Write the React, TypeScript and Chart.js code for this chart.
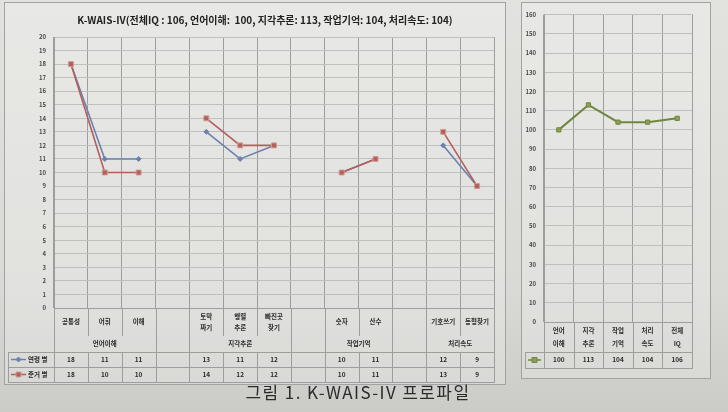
import React, { useEffect, useRef } from 'react';
import { Chart, registerables } from 'chart.js';

Chart.register(...registerables);

// ---------------- data ----------------
const subtestLabels: string[][] = [
  ['공통성'], ['어휘'], ['이해'], [''],
  ['토막', '짜기'], ['행렬', '추론'], ['빠진곳', '찾기'], [''],
  ['숫자'], ['산수'], [''],
  ['기호쓰기'], ['동형찾기'],
];
const ageScores = [18, 11, 11, null, 13, 11, 12, null, 10, 11, null, 12, 9];
const normScores = [18, 10, 10, null, 14, 12, 12, null, 10, 11, null, 13, 9];
const seriesNames = ['연령 별', '준거 별'];
const groupNames = ['언어이해', '지각추론', '작업기억', '처리속도'];
const groupFirst = [0, 4, 8, 11];
const groupLast = [2, 6, 9, 12];
const subtestMin = 0;
const subtestMax = 20;
const subtestStep = 1;

const indexLabels: string[][] = [['언어', '이해'], ['지각', '추론'], ['작업', '기억'], ['처리', '속도'], ['전체', 'IQ']];
const indexScores = [100, 113, 104, 104, 106];
const indexMin = 0;
const indexMax = 160;
const indexStep = 10;

const titleText = 'K-WAIS-IV(전체IQ : 106, 언어이해:  100, 지각추론: 113, 작업기억: 104, 처리속도: 104)';
const captionText = '그림 1. K-WAIS-IV 프로파일';

// ---------------- style ----------------
const FONT = '"Noto Sans CJK KR", "Noto Sans", sans-serif';
const BLUE = '#6b82ae';
const RED = '#b35f5a';
const RED_EDGE = '#d49b96';
const GREEN = '#71863e';
const GREEN_FILL = '#8c9f58';
const GRIDV = '#9d9d9d';
const GRIDH = '#bfbfbf';
const TEXT = '#2c2c2c';

function marker(ctx: CanvasRenderingContext2D, style: string, x: number, y: number, r: number, fill: string, stroke: string) {
  ctx.save();
  ctx.fillStyle = fill;
  ctx.strokeStyle = stroke;
  ctx.lineWidth = 1;
  ctx.beginPath();
  if (style === 'rectRot') {
    ctx.moveTo(x, y - r); ctx.lineTo(x + r, y); ctx.lineTo(x, y + r); ctx.lineTo(x - r, y); ctx.closePath();
  } else {
    ctx.rect(x - r, y - r, 2 * r, 2 * r);
  }
  ctx.fill();
  ctx.stroke();
  ctx.restore();
}

const leftTable = {
  id: 'leftTable',
  afterDraw(chart: any) {
    const { ctx, chartArea: a } = chart;
    const x = chart.scales.x;
    const n = subtestLabels.length;
    const half = (x.getPixelForValue(1) - x.getPixelForValue(0)) / 2;
    const edge = (i: number) => x.getPixelForValue(i) - half;
    const yCat = a.bottom + 28;
    const yGrp = yCat + 16;
    const yR1 = yGrp + 15;
    const yR2 = yR1 + 15;
    const legL = 3;
    ctx.save();
    ctx.strokeStyle = GRIDV;
    ctx.lineWidth = 1;
    ctx.beginPath();
    for (let i = 0; i <= n; i++) {
      const px = Math.round(edge(i)) + 0.5;
      const blankL = i > 0 && subtestLabels[i - 1][0] === '';
      const blankR = i < n && subtestLabels[i][0] === '';
      const groupEdge = i === 0 || i === n || blankL || blankR;
      ctx.moveTo(px, a.bottom);
      ctx.lineTo(px, groupEdge ? yR2 : yCat);
      if (!groupEdge) { ctx.moveTo(px, yGrp); ctx.lineTo(px, yR2); }
    }
    ctx.moveTo(legL + 0.5, yGrp); ctx.lineTo(legL + 0.5, yR2);
    [yGrp, yR1, yR2].forEach((y) => {
      const yy = Math.round(y) + 0.5;
      ctx.moveTo(legL, yy); ctx.lineTo(Math.round(edge(n)) + 1, yy);
    });
    ctx.stroke();

    ctx.fillStyle = TEXT;
    ctx.textAlign = 'center';
    ctx.textBaseline = 'middle';
    ctx.font = `bold 6.5px ${FONT}`;
    const midCat = (a.bottom + yCat) / 2;
    subtestLabels.forEach((lines, i) => {
      const cx = x.getPixelForValue(i);
      lines.forEach((t, k) => ctx.fillText(t, cx, midCat + (k - (lines.length - 1) / 2) * 11));
    });
    groupNames.forEach((g, k) => {
      const cx = (x.getPixelForValue(groupFirst[k]) + x.getPixelForValue(groupLast[k])) / 2;
      ctx.fillText(g, cx, (yCat + yGrp) / 2);
    });
    const rows = [ageScores, normScores];
    const cols = [BLUE, RED];
    rows.forEach((vals, r) => {
      const cy = r === 0 ? (yGrp + yR1) / 2 : (yR1 + yR2) / 2;
      ctx.fillStyle = TEXT;
      ctx.textAlign = 'center';
      vals.forEach((v, i) => { if (v !== null) ctx.fillText(String(v), x.getPixelForValue(i), cy); });
      ctx.strokeStyle = cols[r];
      ctx.lineWidth = 1.5;
      ctx.beginPath(); ctx.moveTo(legL + 3, cy); ctx.lineTo(legL + 18, cy); ctx.stroke();
      if (r === 0) marker(ctx, 'rectRot', legL + 10.5, cy, 2.5, BLUE, BLUE);
      else marker(ctx, 'rect', legL + 10.5, cy, 2.5, RED, RED_EDGE);
      ctx.fillStyle = TEXT;
      ctx.textAlign = 'left';
      ctx.fillText(seriesNames[r], legL + 20, cy);
    });
    ctx.restore();
  },
};

const rightTable = {
  id: 'rightTable',
  afterDraw(chart: any) {
    const { ctx, chartArea: a } = chart;
    const x = chart.scales.x;
    const n = indexLabels.length;
    const half = (x.getPixelForValue(1) - x.getPixelForValue(0)) / 2;
    const edge = (i: number) => x.getPixelForValue(i) - half;
    const yCat = a.bottom + 30;
    const yR = yCat + 16;
    const legL = 3;
    ctx.save();
    ctx.strokeStyle = GRIDV;
    ctx.lineWidth = 1;
    ctx.beginPath();
    for (let i = 0; i <= n; i++) {
      const px = Math.round(edge(i)) + 0.5;
      ctx.moveTo(px, a.bottom); ctx.lineTo(px, yR);
    }
    ctx.moveTo(legL + 0.5, yCat); ctx.lineTo(legL + 0.5, yR);
    [yCat, yR].forEach((y) => {
      const yy = Math.round(y) + 0.5;
      ctx.moveTo(legL, yy); ctx.lineTo(Math.round(edge(n)) + 1, yy);
    });
    ctx.stroke();
    ctx.fillStyle = TEXT;
    ctx.textAlign = 'center';
    ctx.textBaseline = 'middle';
    ctx.font = `bold 6.5px ${FONT}`;
    const midCat = (a.bottom + yCat) / 2;
    indexLabels.forEach((lines, i) => {
      const cx = x.getPixelForValue(i);
      lines.forEach((t, k) => ctx.fillText(t, cx, midCat + (k - (lines.length - 1) / 2) * 13));
    });
    const cy = (yCat + yR) / 2;
    indexScores.forEach((v, i) => ctx.fillText(String(v), x.getPixelForValue(i), cy));
    ctx.strokeStyle = GREEN;
    ctx.lineWidth = 1.5;
    ctx.beginPath(); ctx.moveTo(legL + 3, cy); ctx.lineTo(legL + 16, cy); ctx.stroke();
    marker(ctx, 'rect', legL + 9.5, cy, 2.5, GREEN_FILL, GREEN);
    ctx.restore();
  },
};

export default function App() {
  const leftRef = useRef<HTMLCanvasElement>(null);
  const rightRef = useRef<HTMLCanvasElement>(null);

  useEffect(() => {
    const left = new Chart(leftRef.current as HTMLCanvasElement, {
      type: 'line',
      data: {
        labels: subtestLabels.map((l) => l.join('')),
        datasets: [
          {
            label: seriesNames[0], data: ageScores, borderColor: BLUE, backgroundColor: BLUE,
            pointStyle: 'rectRot', pointRadius: 2.5, pointBorderWidth: 1, borderWidth: 1.6, order: 1, spanGaps: false,
          },
          {
            label: seriesNames[1], data: normScores, borderColor: RED, backgroundColor: RED,
            pointBorderColor: RED_EDGE, pointStyle: 'rect', pointRadius: 3.5, pointBorderWidth: 1, borderWidth: 1.6, order: 0, spanGaps: false,
          },
        ],
      },
      options: {
        animation: false,
        responsive: false,
        layout: { padding: { top: 34, right: 11, left: 0, bottom: 0 } },
        plugins: { legend: { display: false }, tooltip: { enabled: false } },
        scales: {
          x: {
            offset: true,
            grid: { offset: true, color: GRIDV, drawTicks: false },
            border: { color: GRIDV },
            ticks: { display: false },
            afterFit: (s: any) => { s.height = 76; },
          },
          y: {
            min: subtestMin, max: subtestMax,
            ticks: { stepSize: subtestStep, autoSkip: false, font: { size: 6, family: FONT, weight: 'bold' }, color: '#4a4a4a', padding: 8 },
            grid: { color: GRIDH, drawTicks: false },
            border: { color: GRIDV },
            afterFit: (s: any) => { s.width = 49; },
          },
        },
      } as any,
      plugins: [leftTable],
    });

    const right = new Chart(rightRef.current as HTMLCanvasElement, {
      type: 'line',
      data: {
        labels: indexLabels.map((l) => l.join('')),
        datasets: [
          {
            label: '지표', data: indexScores, borderColor: GREEN, backgroundColor: GREEN_FILL,
            pointBorderColor: GREEN, pointStyle: 'rect', pointRadius: 3, pointBorderWidth: 1, borderWidth: 2,
          },
        ],
      },
      options: {
        animation: false,
        responsive: false,
        layout: { padding: { top: 8, right: 18, left: 0, bottom: 0 } },
        plugins: { legend: { display: false }, tooltip: { enabled: false } },
        scales: {
          x: {
            offset: true,
            grid: { offset: true, color: GRIDV, drawTicks: false },
            border: { color: GRIDV },
            ticks: { display: false },
            afterFit: (s: any) => { s.height = 56; },
          },
          y: {
            min: indexMin, max: indexMax,
            ticks: { stepSize: indexStep, autoSkip: false, font: { size: 6, family: FONT, weight: 'bold' }, color: '#4a4a4a', padding: 8 },
            grid: { color: GRIDH, drawTicks: false },
            border: { color: GRIDV },
            afterFit: (s: any) => { s.width = 22; },
          },
        },
      } as any,
      plugins: [rightTable],
    });

    return () => { left.destroy(); right.destroy(); };
  }, []);

  return (
    <div
      style={{
        position: 'fixed', left: 0, top: 0, width: 728, height: 412, overflow: 'hidden',
        background: 'linear-gradient(180deg, #e2e2df 0%, #d9d9d6 70%, #cbcbc7 100%)',
        fontFamily: FONT,
      }}
    >
      <div
        style={{
          position: 'absolute', left: 4, top: 2, width: 500, height: 381,
          border: '1px solid #a2a2a2', background: 'rgba(255,255,255,0.22)',
        }}
      >
        <canvas ref={leftRef} width={500} height={381} style={{ display: 'block' }} />
      </div>
      <div
        style={{
          position: 'absolute', left: 265, top: 13, transform: 'translateX(-50%)',
          whiteSpace: 'pre', fontSize: 10, fontWeight: 'bold', color: '#222', lineHeight: '14px',
        }}
      >
        {titleText}
      </div>
      <div
        style={{
          position: 'absolute', left: 521, top: 2, width: 188, height: 375,
          border: '1px solid #a2a2a2', background: 'rgba(255,255,255,0.22)',
        }}
      >
        <canvas ref={rightRef} width={188} height={375} style={{ display: 'block' }} />
      </div>
      <div
        style={{
          position: 'absolute', left: 358, top: 383, transform: 'translateX(-50%)',
          whiteSpace: 'pre', fontSize: 17, color: '#2b2b2b', lineHeight: '18px', letterSpacing: '1.4px',
        }}
      >
        {captionText}
      </div>
    </div>
  );
}
